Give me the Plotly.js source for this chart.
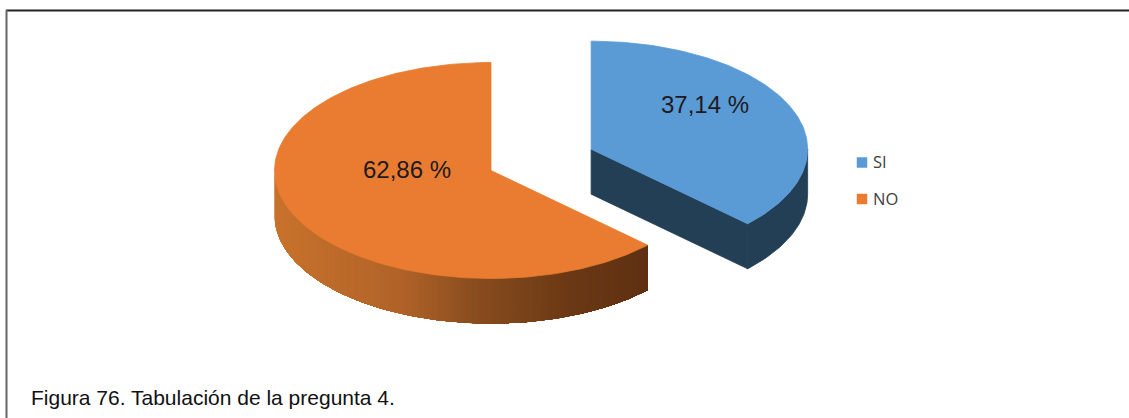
<!DOCTYPE html>
<html>
<head>
<meta charset="utf-8">
<script src="https://cdn.plot.ly/plotly-3.0.1.min.js"></script>
<style>html,body{margin:0;padding:0;background:#fff;overflow:hidden}#chart{width:1129px;height:418px}</style>
</head>
<body>
<div id="chart"></div>
<script>
// Survey answers for question 4
const categories = ["SI", "NO"];
const percentages = [37.14, 62.86];
const sliceLabels = ["37,14 %", "62,86 %"];
const caption = "Figura 76. Tabulación de la pregunta 4.";

// Pie geometry on a pixel-sized plotting area
const pieCenter = [491, 170.5];
const radiusX = 216.5, radiusY = 108, depth = 45;
const explodeFraction = [0.503, 0];
const topColors = ["#5B9BD5", "#E97C30"];
const blueWall = "#233F56";
const orangeWallStops = [[275, [200, 114, 44]], [400, [176, 99, 40]], [470, [138, 77, 31]], [570, [106, 56, 20]], [648, [94, 48, 18]]];
const labelPos = [[705, 106.5], [407, 171.5]];
const legendMarkerX = 862, legendTextX = 873, legendY = [162.5, 199], legendTextShift = 1.5;

function wallColor(x) {
  const s = orangeWallStops;
  if (x <= s[0][0]) return "rgb(" + s[0][1].join(",") + ")";
  for (let i = 1; i < s.length; i++) {
    if (x <= s[i][0]) {
      const t = (x - s[i - 1][0]) / (s[i][0] - s[i - 1][0]);
      const c = s[i][1].map((v, k) => Math.round(s[i - 1][1][k] + (v - s[i - 1][1][k]) * t));
      return "rgb(" + c.join(",") + ")";
    }
  }
  return "rgb(" + s[s.length - 1][1].join(",") + ")";
}

// Angles run clockwise from 12 o'clock
function rimPoint(c, deg) {
  const a = deg * Math.PI / 180;
  return [c[0] + radiusX * Math.sin(a), c[1] - radiusY * Math.cos(a)];
}
function arc(c, from, to) {
  const pts = [], n = Math.max(2, Math.ceil(Math.abs(to - from)));
  for (let i = 0; i <= n; i++) pts.push(rimPoint(c, from + (to - from) * i / n));
  return pts;
}
function poly(pts, color, name, edge) {
  const xs = pts.map(p => p[0]), ys = pts.map(p => p[1]);
  xs.push(xs[0]); ys.push(ys[0]);
  return { type: "scatter", mode: "lines", x: xs, y: ys, fill: "toself", fillcolor: color,
           line: { color: color, width: edge === undefined ? 0.8 : edge }, hoverinfo: name ? "name" : "skip", name: name || "", showlegend: false };
}
const down = (p) => [p[0], p[1] + depth];

const traces = [];
const total = percentages.reduce((a, b) => a + b, 0);
let start = 0;
const slices = percentages.map((v, i) => {
  const sweep = v / total * 360, mid = start + sweep / 2, a = mid * Math.PI / 180;
  const c = [pieCenter[0] + explodeFraction[i] * radiusX * Math.sin(a),
             pieCenter[1] - explodeFraction[i] * radiusY * Math.cos(a)];
  const s = { c, from: start, to: start + sweep };
  start += sweep;
  return s;
});

// Orange slice: wall painted from the left, each band reaching to the cut end
// so the next one lays over it and no seam shows
{
  const s = slices[1];
  const first = Math.max(s.from, 90), last = Math.min(s.to, 270);
  for (let d = last - 1; d >= first - 1; d -= 1) {
    const seg = arc(s.c, Math.max(d, first), first);
    const x = seg[0][0];
    traces.push(poly(seg.concat(seg.slice().reverse().map(down)), wallColor(x), "", 0));
  }
  traces.push(poly([s.c].concat(arc(s.c, s.from, s.to)), topColors[1], categories[1]));
}

// Blue slice: cut face and outer wall in one flat shade, then the top
{
  const s = slices[0];
  const tip = rimPoint(s.c, s.to);
  traces.push(poly([s.c, tip, down(tip), down(s.c)], blueWall));
  const rim = arc(s.c, 90, s.to);
  traces.push(poly(rim.concat(rim.slice().reverse().map(down)), blueWall));
  traces.push(poly([s.c].concat(arc(s.c, s.from, s.to)), topColors[0], categories[0]));
}

// Value labels on the top faces
traces.push({ type: "scatter", mode: "text", x: labelPos.map(p => p[0]), y: labelPos.map(p => p[1]),
  text: sliceLabels, textposition: "middle center", hoverinfo: "skip", showlegend: false,
  textfont: { family: "Liberation Sans, Arial, sans-serif", size: 24, color: "#1E1A22" } });

// Key to the right of the pie
categories.forEach((name, i) => {
  traces.push({ type: "scatter", mode: "markers", x: [legendMarkerX], y: [legendY[i]],
    marker: { symbol: "square", size: 10.5, color: topColors[i] }, hoverinfo: "skip", showlegend: false });
  traces.push({ type: "scatter", mode: "text", x: [legendTextX], y: [legendY[i] + legendTextShift], text: [name],
    textposition: "middle right", hoverinfo: "skip", showlegend: false,
    textfont: { family: "Open Sans, sans-serif", size: 16.5, color: "#404040" } });
});

const layout = {
  width: 1129, height: 418, margin: { l: 0, r: 0, t: 0, b: 0 },
  paper_bgcolor: "#fff", plot_bgcolor: "#fff", showlegend: false,
  xaxis: { visible: false, range: [0, 1129], fixedrange: true },
  yaxis: { visible: false, range: [418, 0], fixedrange: true },
  shapes: [
    { type: "line", xref: "x", yref: "y", x0: 6, x1: 1129, y0: 10.5, y1: 10.5, line: { color: "#222", width: 2 } },
    { type: "line", xref: "x", yref: "y", x0: 6.5, x1: 6.5, y0: 10, y1: 418, line: { color: "#666", width: 2 } }
  ],
  annotations: [{ xref: "x", yref: "y", x: 29, y: 397, xanchor: "left", yanchor: "middle", showarrow: false,
    text: caption, font: { family: "Liberation Sans, Arial, sans-serif", size: 21, color: "#111" } }]
};
Plotly.newPlot("chart", traces, layout, { displayModeBar: false, staticPlot: true });
</script>
</body>
</html>
